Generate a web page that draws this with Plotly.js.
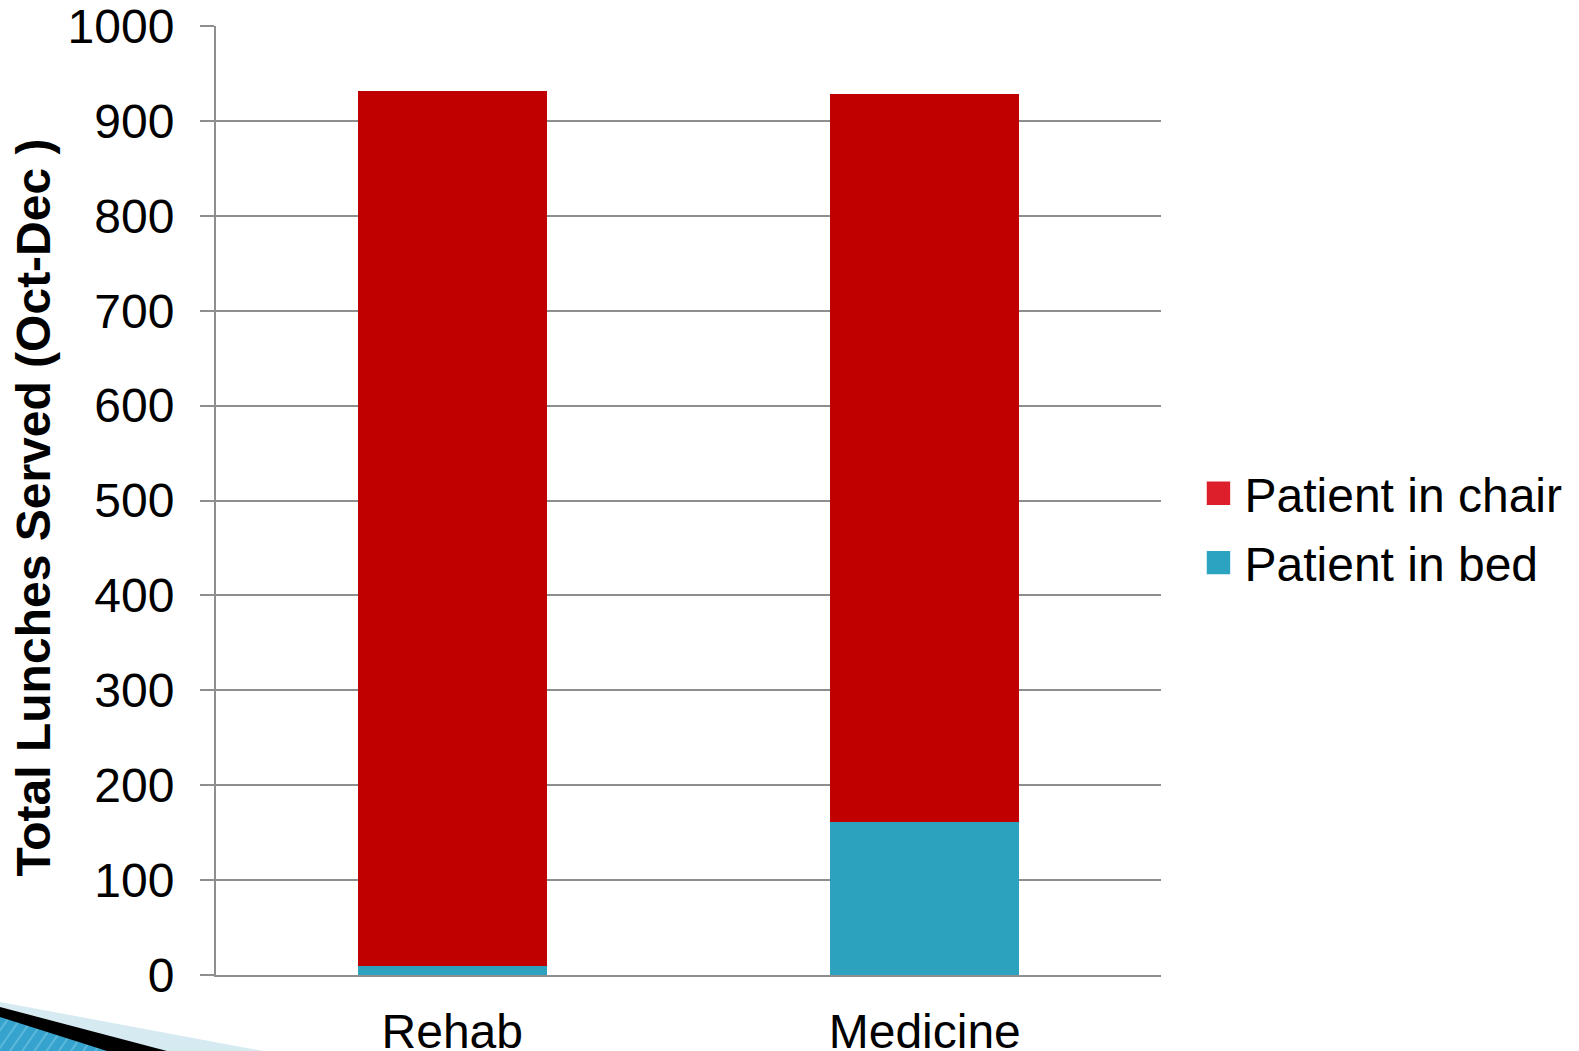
<!DOCTYPE html>
<html>
<head>
<meta charset="utf-8">
<script src="https://cdn.plot.ly/plotly-3.0.1.min.js"></script>
<style>
html,body{margin:0;padding:0;background:#fff;overflow:hidden;}
#chart{width:1579px;height:1051px;position:relative;}
#deco{position:absolute;left:0;top:0;pointer-events:none;}
</style>
</head>
<body>
<div id="chart"></div>
<svg id="deco" width="1579" height="1051">
  <defs>
    <pattern id="hatch" width="10" height="10" patternUnits="userSpaceOnUse" patternTransform="rotate(35)">
      <rect width="10" height="10" fill="#35A3CD"/>
      <rect width="2" height="10" fill="#5BB8DB"/>
    </pattern>
  </defs>
  <polygon points="0,1002 263,1051 0,1051" fill="#D6EAF2"/>
  <polygon points="0,1007 167,1051 0,1051" fill="#000000"/>
  <polygon points="0,1017 107,1051 0,1051" fill="url(#hatch)"/>
</svg>
<script>
var categories = ["Rehab", "Medicine"];
var patientInBed = [10, 161];
var patientInChair = [921, 767];
var yTicks = [0, 100, 200, 300, 400, 500, 600, 700, 800, 900, 1000];

var gridCol = "#8E8E8E";
var font = "Liberation Sans, Arial, sans-serif";

var traces = [
  {type: "bar", name: "Patient in bed", x: categories, y: patientInBed,
   legendgroup: "bed", legendrank: 2, marker: {color: "#2CA2BF"}},
  {type: "bar", name: "Patient in chair", x: categories, y: patientInChair,
   legendgroup: "chair", legendrank: 1, marker: {color: "#C00000"}}
];

var layout = {
  width: 1579, height: 1051,
  margin: {l: 216, r: 418, t: 26, b: 76},
  barmode: "stack",
  bargap: 0.6,
  paper_bgcolor: "#ffffff",
  plot_bgcolor: "#ffffff",
  font: {family: font, size: 48, color: "#000000"},
  showlegend: true,
  legend: {x: 1.046, xanchor: "left", y: 0.471, yanchor: "middle",
           font: {family: font, size: 48, color: "#000000"},
           traceorder: "grouped", tracegroupgap: 4,
           bgcolor: "rgba(0,0,0,0)"},
  xaxis: {
    type: "category",
    showline: true, linecolor: gridCol, linewidth: 2,
    ticks: "", showgrid: false,
    tickfont: {family: font, size: 48, color: "#000000"},
    ticklabelstandoff: 13,
    ticklabeloverflow: "allow"
  },
  yaxis: {
    range: [0, 1000],
    tickvals: yTicks,
    ticktext: yTicks.map(String),
    showline: true, linecolor: gridCol, linewidth: 2,
    ticks: "outside", ticklen: 14, tickcolor: gridCol, tickwidth: 2,
    showgrid: true, gridcolor: gridCol, gridwidth: 2,
    zeroline: false,
    ticklabelstandoff: 16,
    ticklabeloverflow: "allow",
    tickfont: {family: font, size: 48, color: "#000000"},
    title: {text: "Total Lunches Served (Oct-Dec )",
            font: {family: font, size: 48, color: "#000000", weight: "bold"},
            standoff: 2}
  }
};

Plotly.newPlot("chart", traces, layout, {displayModeBar: false, staticPlot: true}).then(function(gd){
  var legendColors = {"Patient in chair": "#DD1F2B", "Patient in bed": "#2CA3C1"};
  var items = gd.querySelectorAll(".legend .traces");
  items.forEach(function(it){
    var txt = it.querySelector(".legendtext");
    var p = it.querySelector(".legendpoints path");
    if (p) {
      p.setAttribute("transform", "translate(14,0) scale(1.95)");
      p.style.strokeWidth = "0px";
      if (txt && legendColors[txt.textContent]) p.style.fill = legendColors[txt.textContent];
    }
  });
  var yt = gd.querySelector(".ytitle");
  if (yt) {
    var tr = yt.getAttribute("transform") || "";
    yt.setAttribute("transform", tr + " translate(-7,0)");
  }
});
</script>
</body>
</html>
